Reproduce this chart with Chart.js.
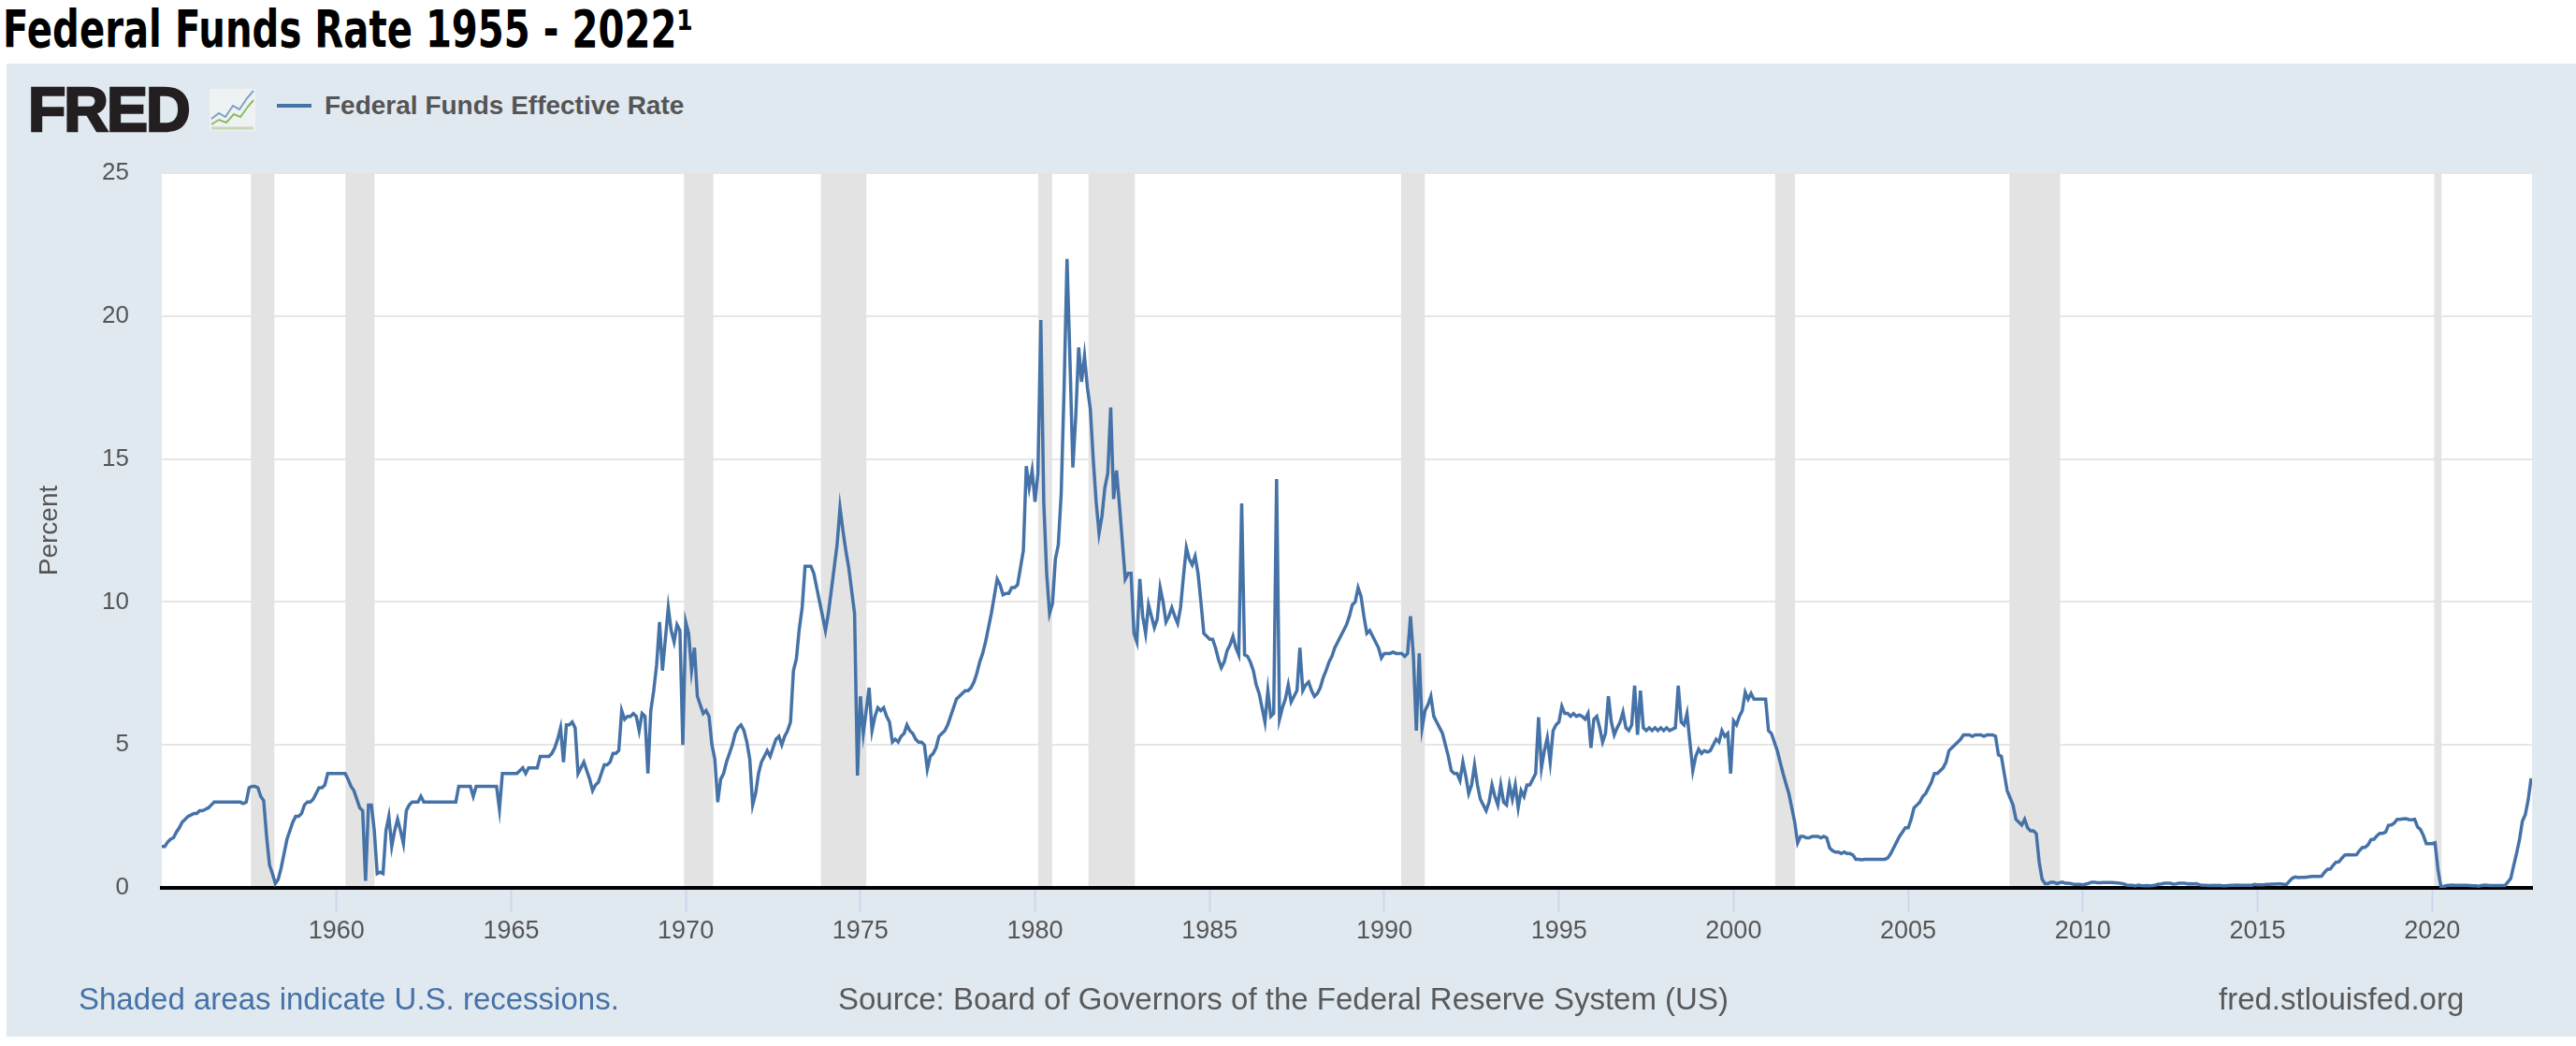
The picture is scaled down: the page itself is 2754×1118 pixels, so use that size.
<!DOCTYPE html>
<html>
<head>
<meta charset="utf-8">
<script src="https://cdn.jsdelivr.net/npm/chart.js@4.4.0/dist/chart.umd.min.js"></script>
<style>
    html, body { margin: 0; padding: 0; background: #fff; width: 2754px; height: 1118px; overflow: hidden; }
    #title { position: absolute; left: 3px; top: 4px; font-family: "DejaVu Sans", sans-serif; font-weight: bold;
             font-size: 55px; line-height: 55px; color: #000; white-space: nowrap; transform-origin: 0 0; }
    #panel { position: absolute; left: 7px; top: 68px; width: 2747px; height: 1040px; background: #e1e9f0; }
    #chart { position: absolute; left: 0; top: 0; }
    .txt { position: absolute; font-family: "Liberation Sans", Arial, sans-serif; white-space: nowrap; }
    #fred { left: 30px; top: 84px; font-size: 66px; line-height: 66px; font-weight: bold; color: #231f20;
            letter-spacing: -2px; -webkit-text-stroke: 2.5px #231f20; }
    #fredIcon { position: absolute; left: 224px; top: 95px; }
    #legendLine { position: absolute; left: 296px; top: 111px; width: 37px; height: 4px; background: #4572a7; }
    #legendText { left: 347px; top: 99px; font-size: 28px; line-height: 28px; font-weight: bold; color: #555; }
    .foot { top: 1051px; font-size: 33px; line-height: 33px; }
    #shaded { left: 84px; color: #4572a7; }
    #source { left: 896px; color: #595959; }
    #site { left: 2372px; color: #595959; }
</style>
</head>
<body>
<div id="title">Federal Funds Rate 1955 - 2022¹</div>
<div id="panel"></div>
<div class="txt" id="fred">FRED</div>
<svg id="fredIcon" width="49" height="45" viewBox="0 0 49 45">
    <rect x="0" y="0" width="49" height="45" fill="#eef2f2"/>
    <polyline points="2,32 10,26 17,30 25,18 32,22 40,10 47,2" fill="none" stroke="#7f9fc9" stroke-width="2"/>
    <polyline points="2,38 10,33 18,36 26,27 33,30 41,19 47,12" fill="none" stroke="#8dbb62" stroke-width="2"/>
    <polyline points="2,42 47,42" fill="none" stroke="#c9d6b8" stroke-width="3"/>
</svg>
<div id="legendLine"></div>
<div class="txt" id="legendText">Federal Funds Effective Rate</div>
<canvas id="chart" width="2754" height="1118"></canvas>
<div class="txt foot" id="shaded">Shaded areas indicate U.S. recessions.</div>
<div class="txt foot" id="source">Source: Board of Governors of the Federal Reserve System (US)</div>
<div class="txt foot" id="site">fred.stlouisfed.org</div>

<script>
// monthly effective rate, one array per decade (Jan of first year onward)
const rates1950s = [
    1.45, 1.45, 1.60, 1.70, 1.75, 1.95, 2.10, 2.30, 2.40, 2.50, 2.55, 2.60,
    2.60, 2.70, 2.70, 2.75, 2.80, 2.90, 3.00, 3.00, 3.00, 3.00, 3.00, 3.00,
    3.00, 3.00, 3.00, 3.00, 2.95, 3.00, 3.50, 3.55, 3.55, 3.50, 3.20, 3.05,
    1.80, 0.80, 0.50, 0.15, 0.30, 0.70, 1.20, 1.70, 2.00, 2.30, 2.50, 2.50,
    2.60, 2.90, 3.00, 3.00, 3.10, 3.30, 3.50, 3.50, 3.60, 4.00, 4.00, 4.00
];
const rates1960s = [
    4.00, 4.00, 4.00, 4.00, 3.80, 3.55, 3.40, 3.10, 2.80, 2.70, 0.25, 2.90,
    2.90, 2.00, 0.50, 0.55, 0.50, 2.00, 2.50, 1.45, 2.00, 2.40, 2.00, 1.55,
    2.70, 2.90, 3.00, 3.00, 3.00, 3.20, 3.00, 3.00, 3.00, 3.00, 3.00, 3.00,
    3.00, 3.00, 3.00, 3.00, 3.00, 3.00, 3.55, 3.55, 3.55, 3.55, 3.55, 3.20,
    3.55, 3.55, 3.55, 3.55, 3.55, 3.55, 3.55, 3.55, 2.75, 4.00, 4.00, 4.00,
    4.00, 4.00, 4.00, 4.10, 4.20, 4.00, 4.20, 4.20, 4.20, 4.20, 4.60, 4.60,
    4.60, 4.60, 4.70, 4.90, 5.20, 5.60, 4.40, 5.70, 5.70, 5.80, 5.60, 4.00,
    4.20, 4.40, 4.10, 3.80, 3.40, 3.60, 3.70, 4.00, 4.30, 4.30, 4.40, 4.70,
    4.70, 4.80, 6.20, 5.90, 6.00, 6.00, 6.10, 6.00, 5.50, 6.10, 6.00, 4.00,
    6.20, 6.90, 7.80, 9.30, 7.60, 8.70, 9.80, 9.00, 8.60, 9.20, 9.00, 5.00
];
const rates1970s = [
    9.30, 8.90, 7.60, 8.40, 6.70, 6.40, 6.10, 6.20, 6.00, 5.00, 4.50, 3.00,
    3.80, 4.00, 4.40, 4.70, 5.00, 5.40, 5.60, 5.70, 5.50, 5.10, 4.50, 2.90,
    3.30, 4.00, 4.40, 4.60, 4.80, 4.60, 4.90, 5.20, 5.30, 5.00, 5.30, 5.50,
    5.80, 7.60, 8.00, 9.05, 9.80, 11.25, 11.25, 11.25, 11.00, 10.50, 10.00, 9.50,
    9.00, 9.60, 10.40, 11.20, 12.00, 13.30, 12.50, 11.80, 11.20, 10.40, 9.60, 3.93,
    6.70, 5.40, 6.20, 7.00, 5.50, 6.00, 6.30, 6.20, 6.30, 6.00, 5.80, 5.10,
    5.20, 5.10, 5.30, 5.40, 5.70, 5.50, 5.40, 5.20, 5.10, 5.10, 5.00, 4.15,
    4.60, 4.70, 4.90, 5.30, 5.40, 5.50, 5.70, 6.00, 6.30, 6.60, 6.70, 6.80,
    6.90, 6.90, 7.00, 7.20, 7.50, 7.90, 8.20, 8.60, 9.10, 9.60, 10.20, 10.80,
    10.60, 10.25, 10.30, 10.30, 10.50, 10.50, 10.60, 11.20, 11.80, 14.75, 14.00, 14.60
];
const rates1980s = [
    13.50, 14.50, 19.86, 13.50, 11.00, 9.60, 9.95, 11.50, 12.00, 13.80, 17.50, 22.00,
    18.50, 14.70, 16.50, 18.90, 17.70, 18.60, 17.50, 16.75, 15.00, 13.50, 12.40, 13.00,
    14.00, 14.50, 16.80, 13.60, 14.60, 13.40, 12.10, 10.80, 11.00, 11.00, 8.90, 8.60,
    10.80, 9.50, 8.90, 9.90, 9.50, 9.10, 9.40, 10.50, 10.00, 9.30, 9.50, 9.80,
    9.50, 9.25, 9.80, 10.90, 11.90, 11.50, 11.30, 11.60, 11.00, 10.00, 8.90, 8.80,
    8.70, 8.70, 8.40, 8.00, 7.70, 7.90, 8.30, 8.50, 8.80, 8.40, 8.15, 13.45,
    8.15, 8.10, 7.90, 7.60, 7.10, 6.80, 6.30, 5.80, 6.90, 6.00, 6.10, 14.30,
    5.90, 6.30, 6.60, 7.10, 6.50, 6.70, 6.90, 8.40, 6.90, 7.10, 7.20, 6.90,
    6.70, 6.80, 7.00, 7.35, 7.60, 7.90, 8.10, 8.40, 8.60, 8.80, 9.00, 9.20,
    9.50, 9.90, 10.00, 10.50, 10.20, 9.50, 8.90, 9.00, 8.80, 8.60, 8.40, 8.04
];
const rates1990s = [
    8.20, 8.20, 8.20, 8.25, 8.20, 8.20, 8.20, 8.10, 8.20, 9.50, 8.10, 5.50,
    8.20, 5.60, 6.20, 6.40, 6.70, 6.00, 5.80, 5.60, 5.40, 5.00, 4.60, 4.10,
    4.00, 4.00, 3.76, 4.40, 3.90, 3.30, 3.60, 4.30, 3.60, 3.10, 2.90, 2.70,
    3.00, 3.60, 3.20, 2.90, 3.60, 3.00, 2.90, 3.60, 3.10, 3.60, 2.80, 3.40,
    3.20, 3.60, 3.60, 3.80, 4.00, 5.97, 4.20, 4.80, 5.25, 4.40, 5.50, 5.70,
    5.80, 6.35, 6.10, 6.10, 6.00, 6.10, 6.00, 6.05, 6.00, 5.90, 6.10, 4.90,
    5.90, 6.00, 5.60, 5.10, 5.40, 6.70, 5.80, 5.35, 5.60, 5.80, 6.15, 5.60,
    5.50, 5.70, 7.07, 5.35, 6.90, 5.60, 5.50, 5.60, 5.50, 5.60, 5.50, 5.60,
    5.50, 5.60, 5.50, 5.55, 5.60, 7.07, 5.80, 5.70, 6.10, 5.10, 4.10, 4.60,
    4.85, 4.70, 4.80, 4.75, 4.80, 5.00, 5.20, 5.10, 5.50, 5.30, 5.40, 4.00
];
const rates2000s = [
    5.84, 5.70, 6.00, 6.20, 6.84, 6.60, 6.80, 6.60, 6.60, 6.60, 6.60, 6.60,
    5.50, 5.40, 5.10, 4.80, 4.40, 4.00, 3.64, 3.30, 2.80, 2.30, 1.57, 1.80,
    1.80, 1.75, 1.75, 1.80, 1.80, 1.80, 1.75, 1.80, 1.75, 1.40, 1.30, 1.25,
    1.25, 1.20, 1.25, 1.20, 1.20, 1.15, 1.00, 1.00, 0.98, 1.00, 1.00, 1.00,
    1.00, 1.00, 1.00, 1.00, 1.00, 1.05, 1.20, 1.40, 1.60, 1.80, 1.95, 2.10,
    2.10, 2.40, 2.80, 2.90, 3.00, 3.20, 3.30, 3.50, 3.70, 4.00, 4.00, 4.10,
    4.20, 4.40, 4.80, 4.90, 5.00, 5.10, 5.20, 5.35, 5.35, 5.35, 5.30, 5.35,
    5.35, 5.35, 5.30, 5.35, 5.35, 5.35, 5.30, 4.65, 4.60, 4.00, 3.40, 3.15,
    2.90, 2.40, 2.30, 2.20, 2.40, 2.10, 2.00, 2.00, 1.90, 0.90, 0.30, 0.15,
    0.15, 0.20, 0.20, 0.15, 0.18, 0.20, 0.16, 0.16, 0.15, 0.12, 0.12, 0.12
];
const rates2010s = [
    0.11, 0.13, 0.16, 0.20, 0.20, 0.18, 0.18, 0.19, 0.19, 0.19, 0.19, 0.18,
    0.17, 0.16, 0.14, 0.10, 0.09, 0.09, 0.07, 0.10, 0.08, 0.07, 0.08, 0.07,
    0.08, 0.10, 0.13, 0.14, 0.16, 0.16, 0.16, 0.13, 0.14, 0.16, 0.16, 0.16,
    0.14, 0.15, 0.14, 0.15, 0.11, 0.09, 0.09, 0.08, 0.08, 0.09, 0.08, 0.09,
    0.07, 0.07, 0.08, 0.09, 0.09, 0.10, 0.09, 0.09, 0.09, 0.09, 0.09, 0.12,
    0.11, 0.11, 0.11, 0.12, 0.12, 0.13, 0.13, 0.14, 0.14, 0.12, 0.12, 0.24,
    0.34, 0.38, 0.36, 0.37, 0.37, 0.38, 0.39, 0.40, 0.40, 0.40, 0.41, 0.54,
    0.65, 0.66, 0.79, 0.90, 0.91, 1.04, 1.15, 1.16, 1.15, 1.15, 1.16, 1.30,
    1.41, 1.42, 1.51, 1.69, 1.70, 1.82, 1.91, 1.91, 1.95, 2.19, 2.20, 2.27,
    2.40, 2.40, 2.41, 2.42, 2.39, 2.38, 2.40, 2.13, 2.04, 1.83, 1.55, 1.55
];
const rates2020s = [
    1.55, 1.58, 0.65, 0.05, 0.05, 0.08, 0.09, 0.10, 0.09, 0.09, 0.09, 0.09,
    0.09, 0.08, 0.07, 0.07, 0.06, 0.08, 0.10, 0.09, 0.08, 0.08, 0.08, 0.08,
    0.08, 0.08, 0.20, 0.33, 0.77, 1.21, 1.68, 2.33, 2.56, 3.08, 3.83
];
const decadeStarts = [1955, 1960, 1970, 1980, 1990, 2000, 2010, 2020];

// recession shading (decimal years)
const recessionStart = [1957.55, 1960.26, 1969.95, 1973.87, 1980.09, 1981.53, 1990.48, 2001.19, 2007.90, 2020.06];
const recessionEnd   = [1958.22, 1961.09, 1970.79, 1975.17, 1980.49, 1982.86, 1991.16, 2001.76, 2009.35, 2020.27];

const tickYears = [1960, 1965, 1970, 1975, 1980, 1985, 1990, 1995, 2000, 2005, 2010, 2015, 2020];
const yTicks = [0, 5, 10, 15, 20, 25];

// squeeze title to the width it has in the picture
const titleEl = document.getElementById('title');
const titleW = titleEl.getBoundingClientRect().width;
titleEl.style.transform = 'scaleX(' + (738 / titleW) + ')';

const decades = [rates1950s, rates1960s, rates1970s, rates1980s, rates1990s, rates2000s, rates2010s, rates2020s];
const points = [];
decades.forEach((arr, d) => {
    arr.forEach((v, i) => {
        points.push({ x: decadeStarts[d] + i / 12, y: v });
    });
});

const fontFamily = "'Liberation Sans', Arial, sans-serif";

const plotBackground = {
    id: 'plotBackground',
    beforeDraw(chart) {
        const { ctx, chartArea } = chart;
        ctx.save();
        ctx.fillStyle = '#ffffff';
        ctx.fillRect(chartArea.left, chartArea.top, chartArea.right - chartArea.left, chartArea.bottom - chartArea.top);
        ctx.restore();
    }
};

const recessionShading = {
    id: 'recessionShading',
    beforeDatasetsDraw(chart) {
        const { ctx, chartArea } = chart;
        const x = chart.scales.x;
        ctx.save();
        ctx.fillStyle = '#e3e3e3';
        recessionStart.forEach((s, i) => {
            const x0 = x.getPixelForValue(s);
            const x1 = x.getPixelForValue(recessionEnd[i]);
            ctx.fillRect(x0, chartArea.top, x1 - x0, chartArea.bottom - chartArea.top - 2);
        });
        ctx.restore();
    }
};

new Chart(document.getElementById('chart'), {
    type: 'line',
    data: {
        datasets: [{
            label: 'Federal Funds Effective Rate',
            data: points,
            borderColor: '#4572a7',
            borderWidth: 3.5,
            pointRadius: 0,
            tension: 0,
            fill: false
        }]
    },
    options: {
        responsive: false,
        animation: false,
        devicePixelRatio: 1,
        layout: { padding: { top: 185, right: 47, left: 0, bottom: 0 } },
        plugins: { legend: { display: false }, tooltip: { enabled: false } },
        scales: {
            x: {
                type: 'linear',
                min: 1955,
                max: 2022.86,
                afterBuildTicks: scale => { scale.ticks = tickYears.map(v => ({ value: v })); },
                afterFit: scale => { scale.height = 169; },
                ticks: {
                    autoSkip: false,
                    maxRotation: 0,
                    padding: 4,
                    color: '#555',
                    font: { family: fontFamily, size: 27 },
                    callback: v => String(v)
                },
                grid: { drawOnChartArea: false, drawTicks: true, tickLength: 26, tickColor: '#ccd6eb', tickWidth: 2 },
                border: { display: true, color: '#000', width: 4 }
            },
            y: {
                min: 0,
                max: 25,
                afterBuildTicks: scale => { scale.ticks = yTicks.map(v => ({ value: v })); },
                afterFit: scale => { scale.width = 173; },
                ticks: { padding: 35, color: '#555', font: { family: fontFamily, size: 26 } },
                grid: { color: '#e6e6e6', lineWidth: 2, drawTicks: false },
                border: { display: false },
                title: {
                    display: true,
                    text: 'Percent',
                    color: '#555',
                    font: { family: fontFamily, size: 28 },
                    padding: { top: 36, bottom: 0 }
                }
            }
        }
    },
    plugins: [plotBackground, recessionShading]
});
</script>
</body>
</html>
